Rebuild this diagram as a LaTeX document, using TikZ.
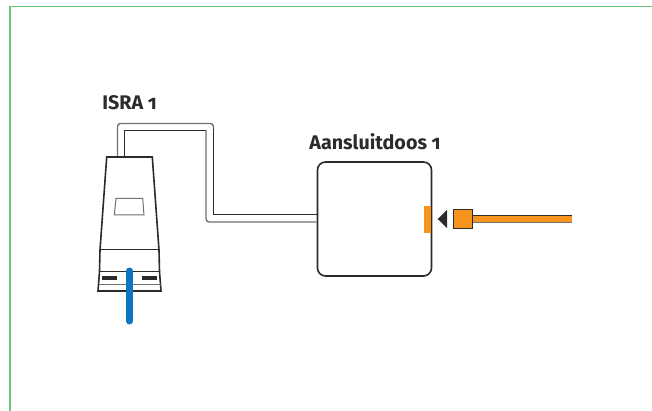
\documentclass[tikz,border=0pt]{standalone}
\usepackage{fontspec}
\setmainfont[Numbers=OldStyle]{Fira Sans}
\definecolor{framegreen}{HTML}{6CC77A}
\definecolor{plugorange}{HTML}{F7941D}
\definecolor{fibreblue}{HTML}{0A77C0}
\definecolor{linedark}{HTML}{2B2B2B}
\definecolor{linegrey}{HTML}{707070}
\tikzset{
	boxlabel/.style={font=\bfseries\fontsize{19.7}{21}\selectfont, text=linedark, inner sep=0pt, anchor=base},
	cablewire/.style={line width=1pt, draw=linedark},
	cableshade/.style={line width=1.4pt, draw=linegrey},
	outline/.style={line width=1.6pt, draw=linedark}
}
\begin{document}
\begin{tikzpicture}[x=1pt,y=-1pt]
	\useasboundingbox (0,0) rectangle (652,411);
	\fill[white] (0,0) rectangle (652,411);

	% frame
	\draw[framegreen, line width=1.2pt] (10,411) -- (10,6.5) -- (652,6.5);

	% labels
	\node[boxlabel] (israLabel) at (129.5,109.5) {ISRA 1};
	\node[boxlabel] (boxLabel) at (375,150) {Aansluitdoos 1};

	% connection box
	\node[outline, rounded corners=8pt, minimum width=114pt, minimum height=114pt, inner sep=0pt] (box) at (374.5,219) {};
	\fill[plugorange] (424,206) rectangle (430.5,233);

	% cable between ISRA and box
	\coordinate (wireA) at (117.5,157);
	\coordinate (wireB) at (124.5,157);
	\coordinate (wireC) at (box.west |- 0,215);
	\coordinate (wireD) at (box.west |- 0,222);
	\draw[cableshade, rounded corners=3pt] (wireA) -- (117.5,123.5) -- (213.5,123.5) -- (213.5,130);
	\draw[cablewire] (213.5,129.5) -- (213.5,215) -- (wireC);
	\draw[cablewire] (wireB) -- (124.5,130.5) -- (206,130.5);
	\draw[cableshade, rounded corners=3pt] (206,130) -- (206,222) -- (wireD);

	% ISRA
	\draw[outline, line join=miter, fill=white] (106.7,157) -- (152.3,157) -- (159,250) -- (159.5,271.5) -- (161,291) -- (98,291) -- (99.5,271.5) -- (100,250) -- cycle;
	\draw[outline, line width=1pt] (100,250) -- (159,250);
	\draw[outline, line width=1pt] (99.5,271.5) -- (159.5,271.5);
	\draw[linegrey, line width=.8pt] (98.5,284.5) -- (160.5,284.5);
	\draw[linegrey, line width=1pt, fill=white] (116,198.5) -- (142.7,198.5) -- (144,215) -- (114.3,215) -- cycle;
	\fill[linedark] (102,276) rectangle (117,280);
	\fill[linedark] (142,276) rectangle (157,280);
	\draw[fibreblue, line width=7pt, line cap=round] (129.5,271) -- (129.5,321);

	% plug
	\fill[plugorange] (472,215) rectangle (572,223);
	\draw[linedark, line width=1pt] (472,215.3) -- (572,215.3);
	\draw[linegrey, line width=1pt] (472,222.7) -- (572,222.7);
	\filldraw[draw=linedark, fill=plugorange, line width=1pt] (453,209.5) rectangle (472,229);
	\fill[linedark] (437.7,219) -- (447,210) -- (447,228) -- cycle;
\end{tikzpicture}
\end{document}
